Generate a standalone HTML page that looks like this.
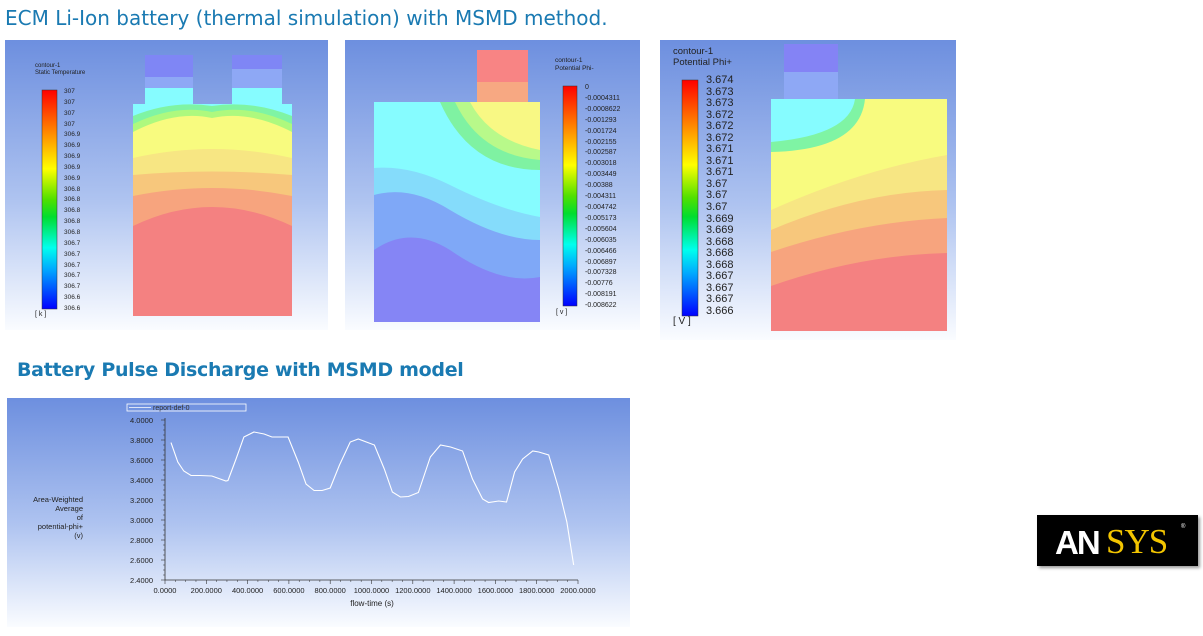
<!DOCTYPE html>
<html><head><meta charset="utf-8">
<style>
body{margin:0;width:1203px;height:636px;background:#fff;position:relative;overflow:hidden;font-family:"Liberation Sans",sans-serif}
.t{position:absolute;color:#1a7ab2;font-family:"DejaVu Sans",sans-serif;font-size:20px;white-space:nowrap}
.abs{position:absolute}
</style></head><body>
<div class="t" style="left:5px;top:6px">ECM Li-Ion battery (thermal simulation) with MSMD method.</div>
<div class="t" style="left:17px;top:359px;font-weight:bold;font-size:19px;letter-spacing:-0.3px">Battery Pulse Discharge with MSMD model</div>

<svg class="abs" style="left:0;top:0" width="1203" height="636">
<defs>
<linearGradient id="bg" x1="0" y1="0" x2="0" y2="1"><stop offset="0" stop-color="#6d8fdf"/><stop offset="0.55" stop-color="#aec3f0"/><stop offset="1" stop-color="#fafcff"/></linearGradient>
<linearGradient id="cb" x1="0" y1="0" x2="0" y2="1">
<stop offset="0" stop-color="#ff0000"/><stop offset="0.15" stop-color="#ff6a00"/><stop offset="0.3" stop-color="#ffd400"/><stop offset="0.36" stop-color="#ffff00"/><stop offset="0.5" stop-color="#50e000"/><stop offset="0.58" stop-color="#00dd30"/><stop offset="0.72" stop-color="#00ffee"/><stop offset="0.82" stop-color="#00a8ff"/><stop offset="1" stop-color="#0000ff"/></linearGradient>
</defs>
<rect x="5" y="40" width="323" height="290" fill="url(#bg)"/>
<rect x="145" y="55" width="48" height="50" fill="#8ea8f5"/><rect x="145" y="55" width="48" height="22" fill="#7f86f5"/>
<rect x="232" y="55" width="50" height="50" fill="#8ea8f5"/><rect x="232" y="55" width="50" height="14" fill="#7f86f5"/>
<rect x="145" y="88" width="48" height="17" fill="#86fcff"/><rect x="232" y="88" width="50" height="17" fill="#86fcff"/>
<rect x="133" y="104" width="159" height="212" fill="#f48181"/>
<path d="M133 104H292V226Q212 188 133 226Z" fill="#f7a47e"/>
<path d="M133 104H292V196Q212 180 133 196Z" fill="#f7c77c"/>
<path d="M133 104H292V175Q212 168 133 175Z" fill="#f7e683"/>
<path d="M133 104H292V158Q212 140 133 158Z" fill="#f8fb7f"/>
<path d="M133 104H292V132Q250 110 212 118Q175 110 133 132Z" fill="#aef97e"/>
<path d="M133 104H292V124Q250 104 212 112Q175 104 133 124Z" fill="#7ff4a4"/>
<path d="M133 104H292V116Q252 100 212 106Q172 100 133 116Z" fill="#86fcff"/>
<rect x="42" y="90" width="15" height="219" fill="url(#cb)" stroke="#333" stroke-width="0.5"/>
<rect x="345" y="40" width="295" height="290" fill="url(#bg)"/>
<rect x="477" y="50" width="51" height="53" fill="#f88484"/><rect x="477" y="82" width="51" height="21" fill="#f7a882"/>
<rect x="374" y="102" width="166" height="220" fill="#8585f5"/>
<path d="M374 102H540V277Q500 285 450 250Q410 225 374 250Z" fill="#7fa8f7"/>
<path d="M374 102H540V240Q500 240 450 210Q410 185 374 195Z" fill="#85dcfb"/>
<path d="M374 102H540V217Q500 210 450 185Q410 165 374 168Z" fill="#86fcff"/>
<path d="M440 102H540V170Q470 170 440 102Z" fill="#7ff2a2"/>
<path d="M455 102H540V160Q480 155 455 102Z" fill="#b8f98a"/>
<path d="M470 102H540V150Q490 140 470 102Z" fill="#f8f884"/>
<rect x="563" y="86" width="14" height="220" fill="url(#cb)" stroke="#333" stroke-width="0.5"/>
<rect x="660" y="40" width="296" height="300" fill="url(#bg)"/>
<rect x="784" y="44" width="54" height="56" fill="#8ea8f5"/><rect x="784" y="44" width="54" height="28" fill="#8483f5"/>
<rect x="771" y="99" width="176" height="232" fill="#f48181"/>
<path d="M771 99H947V253Q860 255 771 286Z" fill="#f7a47e"/>
<path d="M771 99H947V218Q860 222 771 252Z" fill="#f7c77c"/>
<path d="M771 99H947V190Q860 192 771 230Z" fill="#f7e683"/>
<path d="M771 99H947V155Q860 170 771 210Z" fill="#f8fb7f"/>
<path d="M771 99H865Q860 150 771 152Z" fill="#7ff4a4"/>
<path d="M771 99H855Q850 135 771 142Z" fill="#86fcff"/>
<rect x="682" y="80" width="16" height="236" fill="url(#cb)" stroke="#333" stroke-width="0.5"/>
<rect x="7" y="398" width="623" height="229" fill="url(#bg)"/>
</svg>

<div class="abs" style="left:35px;top:63px;font-size:6px;line-height:7px;color:#222">contour-1<br>Static Temperature</div>
<div class="abs" style="left:64px;top:87px;font-size:6.5px;line-height:10.85px;color:#222">307<br>307<br>307<br>307<br>306.9<br>306.9<br>306.9<br>306.9<br>306.9<br>306.8<br>306.8<br>306.8<br>306.8<br>306.8<br>306.7<br>306.7<br>306.7<br>306.7<br>306.7<br>306.6<br>306.6</div>
<div class="abs" style="left:35px;top:311px;font-size:7px;color:#222">[ k ]</div>
<div class="abs" style="left:555px;top:57px;font-size:6.5px;line-height:8px;color:#222">contour-1<br>Potential Phi-</div>
<div class="abs" style="left:585px;top:83px;font-size:7px;line-height:10.9px;color:#222">0<br>-0.0004311<br>-0.0008622<br>-0.001293<br>-0.001724<br>-0.002155<br>-0.002587<br>-0.003018<br>-0.003449<br>-0.00388<br>-0.004311<br>-0.004742<br>-0.005173<br>-0.005604<br>-0.006035<br>-0.006466<br>-0.006897<br>-0.007328<br>-0.00776<br>-0.008191<br>-0.008622</div>
<div class="abs" style="left:556px;top:309px;font-size:7px;color:#222">[ v ]</div>
<div class="abs" style="left:673px;top:47px;font-size:9.5px;line-height:10.5px;color:#222">contour-1<br>Potential Phi+</div>
<div class="abs" style="left:706px;top:75px;font-size:11px;line-height:11.55px;color:#222">3.674<br>3.673<br>3.673<br>3.672<br>3.672<br>3.672<br>3.671<br>3.671<br>3.671<br>3.67<br>3.67<br>3.67<br>3.669<br>3.669<br>3.668<br>3.668<br>3.668<br>3.667<br>3.667<br>3.667<br>3.666</div>
<div class="abs" style="left:673px;top:316px;font-size:10px;color:#222">[ V ]</div>

<div class="abs" style="left:1037px;top:515px;width:161px;height:51px;background:#000;box-shadow:2px 2px 3px #999">
<span style="position:absolute;left:18px;top:9px;font-size:33px;font-weight:bold;color:#fff;letter-spacing:-2px">AN</span><span style="position:absolute;left:69px;top:7px;font-size:35px;font-family:'Liberation Serif',serif;color:#f3c500;letter-spacing:-1px">SYS</span><span style="position:absolute;left:144px;top:9px;font-size:6px;color:#fff">®</span></div>

<svg class="abs" style="left:0;top:0" width="1203" height="636" id="chart"></svg>
<script>
const times=[29,62,91,126,169,227,295,305,344,382,431,480,518,596,645,683,722,761,800,845,897,936,1014,1062,1101,1140,1179,1227,1285,1334,1383,1441,1489,1538,1567,1616,1654,1693,1732,1781,1810,1858,1907,1946,1979];
const volts=[3.774,3.58,3.49,3.445,3.445,3.44,3.39,3.395,3.61,3.83,3.88,3.86,3.83,3.83,3.58,3.36,3.295,3.295,3.32,3.55,3.78,3.81,3.75,3.51,3.28,3.23,3.235,3.275,3.63,3.75,3.73,3.69,3.41,3.21,3.175,3.19,3.18,3.48,3.61,3.69,3.68,3.65,3.31,2.98,2.55];
const xTicks=[0,200,400,600,800,1000,1200,1400,1600,1800,2000];
const yTicks=[2.4,2.6,2.8,3.0,3.2,3.4,3.6,3.8,4.0];
const NS='http://www.w3.org/2000/svg';
const svg=document.getElementById('chart');
const X=t=>165+(t-0)/2000*413;
const Y=v=>580-(v-2.4)/1.6*160;
function mk(tag,a){const e=document.createElementNS(NS,tag);for(const k in a)e.setAttribute(k,a[k]);svg.appendChild(e);return e;}
let ax=mk('path',{d:`M165 418V580H578`,stroke:'#333',fill:'none','stroke-width':0.8});


xTicks.forEach(t=>{
  mk('line',{x1:X(t),x2:X(t),y1:580,y2:584,stroke:'#333','stroke-width':0.6});
  for(let k=1;k<4&&t<2000;k++)mk('line',{x1:X(t+k*50),x2:X(t+k*50),y1:580,y2:582,stroke:'#333','stroke-width':0.5});
  const tx=mk('text',{x:X(t),y:593,'font-size':7.5,'text-anchor':'middle',fill:'#222'});
  tx.textContent=t.toFixed(4);
  
  
});
yTicks.forEach(v=>{
  mk('line',{x1:161,x2:165,y1:Y(v),y2:Y(v),stroke:'#333','stroke-width':0.6});
  for(let k=1;k<4&&v<4;k++)mk('line',{x1:163,x2:165,y1:Y(v+k*0.05),y2:Y(v+k*0.05),stroke:'#333','stroke-width':0.5});
  const tx=mk('text',{x:153,y:Y(v)+3,'font-size':7.5,'text-anchor':'end',fill:'#222'});
  tx.textContent=v.toFixed(4);
  
  
});
const line=mk('polyline',{points:times.map((t,i)=>X(t)+','+Y(volts[i])).join(' '),fill:'none',stroke:'#fff','stroke-width':1.1});


const xl=mk('text',{x:372,y:606,'font-size':8,'text-anchor':'middle',fill:'#222'});xl.textContent='flow-time (s)';


['Area-Weighted','Average','of','potential-phi+','(v)'].forEach((s,i)=>{
  const t=mk('text',{x:83,y:502+i*9,'font-size':7.5,'text-anchor':'end',fill:'#222'});t.textContent=s;
  
  
});
const lg=mk('rect',{x:127,y:404,width:119,height:7,fill:'none',stroke:'#fff','stroke-width':0.8});


mk('line',{x1:129,x2:151,y1:407.5,y2:407.5,stroke:'#fff','stroke-width':0.8});
const lt=mk('text',{x:153,y:410,'font-size':7,fill:'#333'});lt.textContent='report-def-0';


</script>
</body></html>
